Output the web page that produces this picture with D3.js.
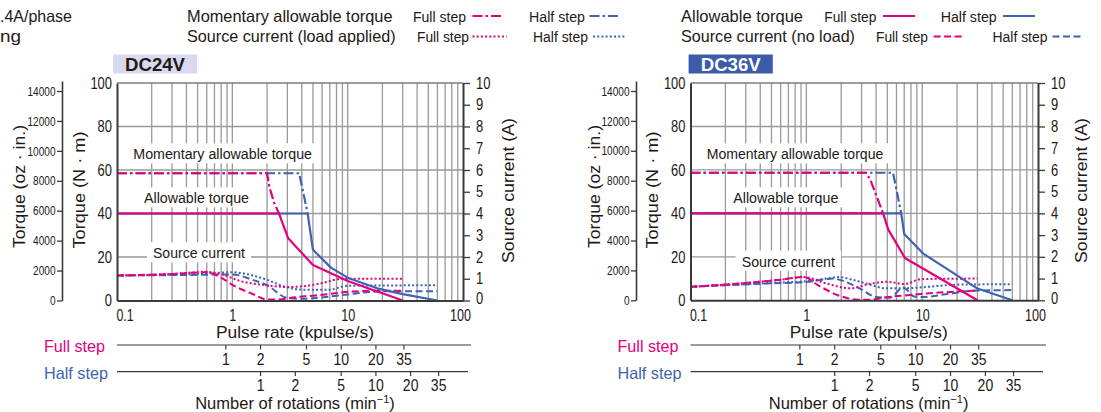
<!DOCTYPE html>
<html><head><meta charset="utf-8">
<script src="https://cdn.jsdelivr.net/npm/d3@7"></script>
<style>
body{margin:0;background:#fff;}
svg{display:block;}
text{font-family:"Liberation Sans",Arial,sans-serif;fill:#231815;}
</style></head><body>
<svg id="c" width="1101" height="412"></svg>
<script>
// ---------------- DATA ----------------
const pulseTicks = [0.1, 1, 10, 100];
const torqueTicks = [0, 20, 40, 60, 80, 100];
const currentTicks = [0,1,2,3,4,5,6,7,8,9,10];
const ozTicks = [0,2000,4000,6000,8000,10000,12000,14000];
const rpmFullTicks = [1, 2, 5, 10, 20, 35];
const rpmHalfTicks = [1, 2, 5, 10, 20, 35];
const kppsPerRpmFull = 0.87;
const kppsPerRpmHalf = 1.74;

// DC24V  [kpulse/s, N·m]
const momFull24   = [[0.1,58.5],[2.0,58.5],[2.1,52],[2.3,45],[2.54,40]];
const momHalf24   = [[0.1,58.5],[3.8,58.5],[4.5,40]];
const allowFull24 = [[0.1,40],[2.54,40],[3.05,28.6],[5.0,16.3],[7,12.8],[10,9],[15,5.6],[20,3.3],[30,0]];
const allowHalf24 = [[0.1,40],[4.5,40],[5.0,23.3],[7.2,15],[10,10.5],[18,5.6],[30,2.9],[60,0]];
// DC24V  [kpulse/s, A]
const srcLoadFull24 = [[0.1,1.15],[0.3,1.22],[0.6,1.32],[0.75,1.25],[1.2,0.88],[2.0,0.7],[3,0.62],[4.5,0.68],[6,0.8],[9,1.0],[30,1.0]];
const srcLoadHalf24 = [[0.1,1.15],[0.5,1.22],[1.0,1.3],[1.5,1.15],[2,0.95],[3,0.6],[4,0.5],[7,0.5],[10,0.68],[60,0.7]];
const srcNoFull24   = [[0.1,1.15],[0.3,1.22],[0.6,1.3],[0.8,1.05],[1.0,0.72],[1.5,0.3],[2.0,0.05],[2.5,0.05],[3.5,0.15],[5,0.22],[7,0.3],[10,0.4],[20,0.45],[30,0.45]];
const srcNoHalf24   = [[0.1,1.15],[0.5,1.18],[1.0,1.2],[1.5,0.95],[2,0.7],[3,0.12],[4,0.08],[7,0.18],[10,0.28],[20,0.42],[60,0.42]];

// DC36V  [kpulse/s, N·m]
const momFull36   = [[0.1,58.7],[3.3,58.7],[3.6,55],[4.1,47],[4.6,40]];
const momHalf36   = [[0.1,58.7],[5.6,58.7],[6.6,40]];
const allowFull36 = [[0.1,40],[4.6,40],[5.1,32.5],[7.1,19.5],[30,0]];
const allowHalf36 = [[0.1,40],[6.6,40],[7.0,30.5],[10.2,21.5],[20,11.5],[30,5.4],[60,0]];
// DC36V  [kpulse/s, A]
const srcLoadFull36 = [[0.1,0.62],[0.3,0.8],[0.6,0.95],[0.95,1.07],[1.5,0.77],[2.4,0.55],[3.5,0.75],[5,0.85],[7,0.75],[10,0.98],[30,1.0]];
const srcLoadHalf36 = [[0.1,0.62],[0.5,0.8],[1.0,0.88],[1.5,1.0],[1.9,1.07],[2.5,0.95],[3.3,0.77],[4.9,0.55],[7,0.55],[10,0.6],[20,0.72],[60,0.74]];
const srcNoFull36   = [[0.1,0.62],[0.3,0.8],[0.6,0.95],[0.95,1.07],[1.3,0.65],[2.0,0.18],[2.8,0.03],[3.5,0.03],[5,0.15],[7,0.22],[10,0.3],[20,0.4],[30,0.45]];
const srcNoHalf36   = [[0.1,0.62],[0.5,0.78],[1.0,0.84],[1.7,1.0],[2.0,0.92],[2.9,0.54],[4.0,0.15],[5.2,0.12],[6.9,0.58],[8.5,0.18],[10,0.15],[17,0.3],[30,0.45],[60,0.47]];

// ---------------- STYLE ----------------
const PINK = "#e4007f", BLUE = "#3f63b1", GRID = "#9a9a9a", AXIS = "#3a3a3a";
const DASH = {solid:null, dashdot:"10,3,2.5,3", dashed:"7,3.5", dotted:"2,2.2"};

const svg = d3.select("#c");

function styled(sel, color, dash, w){
  sel.attr("fill","none").attr("stroke",color).attr("stroke-width",w)
     .attr("stroke-dasharray",DASH[dash]).attr("stroke-linejoin","round");
  return sel;
}

function fitText(g, str, x, y, size, len, anchor, opts={}){
  const t = g.append("text").attr("x",x).attr("y",y).attr("font-size",size)
    .attr("text-anchor",anchor||"start").text(str);
  if(len) t.attr("textLength",len).attr("lengthAdjust","spacingAndGlyphs");
  if(opts.fill) t.style("fill",opts.fill);
  if(opts.weight) t.attr("font-weight",opts.weight);
  if(opts.transform) t.attr("transform",opts.transform);
  return t;
}

// condense numeric tick labels
function condense(sel, size, perChar){
  sel.attr("font-size",size).style("fill","#231815")
    .each(function(){
      const s = this.textContent;
      let w = 0; for(const ch of s) w += (ch==="." ? perChar*0.45 : perChar);
      d3.select(this).attr("textLength",w).attr("lengthAdjust","spacingAndGlyphs");
    });
}

const panels = [
  {name:"DC24V", boxFill:"#d9d9ef", textFill:"#231815", x0:117, x1:463, yb:300.5, yt:83,
   ozX:62, ozTop:81, oz14:91, boxX:[113,197],
   ttlOz:18.5, ttlNm:78.5, ttlA:507.5,
   lblMom:[133.3,178.7,159.3], lblAllow:[144,105,203.3], lblSrc:[153,92,258.3],
   pulseTitle:[216,158], rotTitle:295,
   sets:{momFull:momFull24, momHalf:momHalf24, allowFull:allowFull24, allowHalf:allowHalf24,
         loadFull:srcLoadFull24, loadHalf:srcLoadHalf24, noFull:srcNoFull24, noHalf:srcNoHalf24}},
  {name:"DC36V", boxFill:"#3b5ca8", textFill:"#ffffff", x0:690.5, x1:1038, yb:300.3, yt:83,
   ozX:636, ozTop:81, oz14:91, boxX:[688.6,772.8],
   ttlOz:593.5, ttlNm:652, ttlA:1081,
   lblMom:[706.7,176.6,159.3], lblAllow:[733.3,105,203.3], lblSrc:[741.7,93.3,266.7],
   pulseTitle:[789.8,158], rotTitle:868.6,
   sets:{momFull:momFull36, momHalf:momHalf36, allowFull:allowFull36, allowHalf:allowHalf36,
         loadFull:srcLoadFull36, loadHalf:srcLoadHalf36, noFull:srcNoFull36, noHalf:srcNoHalf36}}
];

function drawPanel(p){
  const g = svg.append("g");
  const x = d3.scaleLog().domain([0.1,100]).range([p.x0,p.x1]);
  const yT = d3.scaleLinear().domain([0,100]).range([p.yb,p.yt]);
  const yA = d3.scaleLinear().domain([0,10]).range([p.yb,p.yt]);
  const ozMax = 14000*(p.yb-p.ozTop)/(p.yb-p.oz14);
  const yOz = d3.scaleLinear().domain([0,ozMax]).range([p.yb,p.ozTop]);

  // vertical grid
  const gx = [];
  [0.1,1,10].forEach(d=>{ for(let k=1;k<=9;k++){ const v=+(k*d).toPrecision(3); if(v>0.1) gx.push(v);} });
  g.append("g").selectAll("line").data(gx).join("line")
    .attr("x1",d=>x(d)).attr("x2",d=>x(d)).attr("y1",p.yb).attr("y2",p.yt)
    .attr("stroke",GRID).attr("stroke-width",1.3);
  // horizontal grid
  g.append("g").selectAll("line").data(torqueTicks.filter(d=>d>0)).join("line")
    .attr("x1",p.x0).attr("x2",p.x1).attr("y1",d=>yT(d)).attr("y2",d=>yT(d))
    .attr("stroke",d=>d===100?"#7d7d7d":GRID).attr("stroke-width",1.4);

  // label boxes
  const L = g.append("g");
  [[p.lblMom,"Momentary allowable torque"],[p.lblAllow,"Allowable torque"],[p.lblSrc,"Source current"]]
  .forEach(([b,s])=>{
    L.append("rect").attr("x",b[0]-6).attr("y",b[2]-16).attr("width",b[1]+12).attr("height",20).attr("fill","#fff");
    fitText(L,s,b[0],b[2],15.5,b[1],"start");
  });

  // curves
  const lineT = d3.line().x(d=>x(d[0])).y(d=>yT(d[1]));
  const lineA = d3.line().x(d=>x(d[0])).y(d=>yA(d[1])).curve(d3.curveMonotoneX);
  const S = p.sets;
  const C = g.append("g");
  styled(C.append("path").attr("d",lineA(S.noHalf)),BLUE,"dashed",2);
  styled(C.append("path").attr("d",lineA(S.loadHalf)),BLUE,"dotted",2);
  styled(C.append("path").attr("d",lineA(S.noFull)),PINK,"dashed",2);
  styled(C.append("path").attr("d",lineA(S.loadFull)),PINK,"dotted",2);
  styled(C.append("path").attr("d",lineT(S.allowHalf)),BLUE,"solid",2.2);
  styled(C.append("path").attr("d",lineT(S.momHalf)),BLUE,"dashdot",2.2);
  styled(C.append("path").attr("d",lineT(S.allowFull)),PINK,"solid",2.2);
  styled(C.append("path").attr("d",lineT(S.momFull)),PINK,"dashdot",2.2);

  // axes
  const ax = g.append("g");
  const aL = ax.append("g").attr("transform",`translate(${p.x0},0)`)
    .call(d3.axisLeft(yT).tickValues(torqueTicks).tickSize(0).tickPadding(5).tickSizeOuter(0));
  condense(aL.selectAll("text"),16.5,7.2);
  const aR = ax.append("g").attr("transform",`translate(${p.x1},0)`)
    .call(d3.axisRight(yA).tickValues(currentTicks).tickSize(7).tickPadding(6).tickSizeOuter(0));
  condense(aR.selectAll("text"),16,7.2);
  aR.selectAll(".tick text").attr("dy",d=>d===0?"0.2em":"0.32em");
  const aB = ax.append("g").attr("transform",`translate(0,${p.yb})`)
    .call(d3.axisBottom(x).tickValues(pulseTicks).tickSize(0).tickPadding(8.5).tickSizeOuter(0)
      .tickFormat(d=>d<1?"0.1":String(d)));
  condense(aB.selectAll("text"),16.5,7.0);
  aB.selectAll("text").attr("text-anchor",d=>d===0.1?"start":"middle").attr("dx",d=>d===0.1?-1:(d===100?-3:0));
  const aO = ax.append("g").attr("transform",`translate(${p.ozX},0)`)
    .call(d3.axisLeft(yOz).tickValues(ozTicks).tickSize(5).tickPadding(1.5).tickSizeOuter(0)
      .tickFormat(d3.format("d")));
  condense(aO.selectAll("text"),13,5.6);
  [aL,aR,aB,aO].forEach(a=>{
    a.select(".domain").attr("stroke",AXIS).attr("stroke-width",1.6);
    a.selectAll(".tick line").attr("stroke",AXIS).attr("stroke-width",1.3);
    a.attr("font-family",null);
  });
  aB.select(".domain").attr("stroke-width",2);
  aL.select(".domain").attr("stroke-width",2);
  aR.select(".domain").attr("stroke-width",2);

  // axis titles
  fitText(g,"Torque (oz · in.)",0,0,17,123,"middle",{transform:`translate(${p.ttlOz+6},186.5) rotate(-90)`});
  fitText(g,"Torque (N · m)",0,0,17,117,"middle",{transform:`translate(${p.ttlNm+6},190) rotate(-90)`});
  fitText(g,"Source current (A)",0,0,17,145,"middle",{transform:`translate(${p.ttlA+6},190.5) rotate(-90)`});

  // voltage box
  g.append("rect").attr("x",p.boxX[0]).attr("y",54.5).attr("width",p.boxX[1]-p.boxX[0]).attr("height",19).attr("fill",p.boxFill);
  fitText(g,p.name,(p.boxX[0]+p.boxX[1])/2,70.5,18,60,"middle",{fill:p.textFill,weight:"bold"});

  // pulse-rate title
  fitText(g,"Pulse rate (kpulse/s)",p.pulseTitle[0],338,17,p.pulseTitle[1],"start");

  // rotation axes
  const rot = [
    {label:"Full step", color:PINK, y:345, ticks:rpmFullTicks, k:kppsPerRpmFull, lblY:351.5, lblW:61},
    {label:"Half step", color:BLUE, y:371.6, ticks:rpmHalfTicks, k:kppsPerRpmHalf, lblY:379, lblW:64}
  ];
  rot.forEach((r,i)=>{
    const ra = g.append("g").attr("transform",`translate(0,${r.y})`)
      .call(d3.axisBottom(x).tickValues(r.ticks.map(t=>t*r.k)).tickSize(4.5).tickPadding(3.5).tickSizeOuter(0)
        .tickFormat((d,j)=>String(r.ticks[j])));
    ra.select(".domain").remove();
    ra.selectAll(".tick line").attr("stroke",AXIS).attr("stroke-width",1.2);
    condense(ra.selectAll("text"),16.5,7.8);
    ra.attr("font-family",null);
    g.append("line").attr("x1",p.x0).attr("x2",p.x1+(i===0?8:5)).attr("y1",r.y).attr("y2",r.y)
      .attr("stroke",AXIS).attr("stroke-width",1.2);
    fitText(g,r.label,p.x0-73,r.lblY,16.5,r.lblW,"start",{fill:r.color});
  });

  // number of rotations title
  const t = g.append("text").attr("x",p.rotTitle).attr("y",409).attr("font-size",16.5).attr("text-anchor","middle");
  t.append("tspan").text("Number of rotations (min");
  t.append("tspan").attr("dy",-6).attr("font-size",11).text("−1");
  t.append("tspan").attr("dy",6).text(")");
}

panels.forEach(drawPanel);

// ---------------- LEGEND ----------------
const lg = svg.append("g");
fitText(lg,".4A/phase",0,21.5,16.5,72,"start");
fitText(lg,"ng",0,42,16.5,21,"start");

const legendRows = [
  {title:"Momentary allowable torque", tx:187, tw:205.5, y:21.5, ly:16,
   items:[{s:"Full step",x:413,w:53,c:PINK,d:"dashdot",l:[472.5,502.5]},{s:"Half step",x:529,w:56,c:BLUE,d:"dashdot",l:[589.5,620.5]}]},
  {title:"Source current (load applied)", tx:187, tw:208.6, y:41.8, ly:36.5,
   items:[{s:"Full step",x:417,w:52,c:PINK,d:"dotted",l:[472.5,506.7]},{s:"Half step",x:533,w:55,c:BLUE,d:"dotted",l:[593,625]}]},
  {title:"Allowable torque", tx:681, tw:122, y:21.5, ly:16,
   items:[{s:"Full step",x:824.3,w:52,c:PINK,d:"solid",l:[883,915]},{s:"Half step",x:940.7,w:56,c:BLUE,d:"solid",l:[1003,1035]}]},
  {title:"Source current (no load)", tx:681, tw:174, y:41.8, ly:36.5,
   items:[{s:"Full step",x:876,w:52,c:PINK,d:"dashed",l:[933.6,963]},{s:"Half step",x:992.5,w:55,c:BLUE,d:"dashed",l:[1052.5,1081.7]}]}
];
legendRows.forEach(r=>{
  fitText(lg,r.title,r.tx,r.y,16.5,r.tw,"start");
  r.items.forEach(it=>{
    fitText(lg,it.s,it.x,r.y,14,it.w,"start");
    styled(lg.append("line").attr("x1",it.l[0]).attr("x2",it.l[1]).attr("y1",r.ly).attr("y2",r.ly),it.c,it.d,2);
  });
});
</script>
</body></html>
